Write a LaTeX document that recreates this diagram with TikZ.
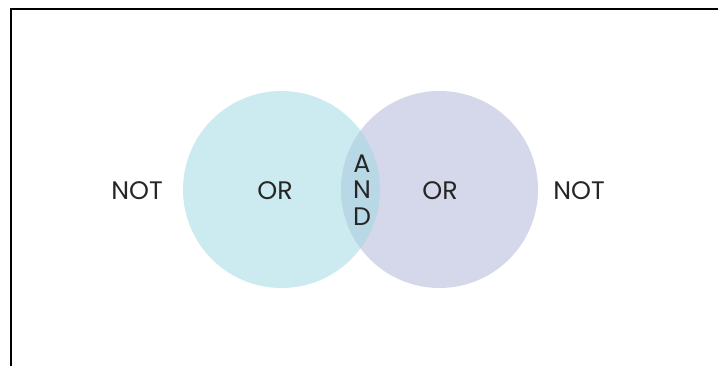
\documentclass[tikz,border=0pt]{standalone}
\usepackage{fontspec}
\setmainfont{Poppins}
\usepackage{tikz}
\usetikzlibrary{positioning}
\definecolor{setleft}{RGB}{204,235,240}
\definecolor{setright}{RGB}{213,215,234}
\definecolor{setboth}{RGB}{184,216,230}

\begin{document}
\begin{tikzpicture}[
  x=0.75pt,y=-0.75pt,
  setcirc/.style={circle,minimum size=147.75pt,inner sep=0pt},
  lbl/.style={font=\fontsize{19}{21}\selectfont,text=black!85,inner sep=0pt},
]
\useasboundingbox (0,0) rectangle (718,366);
\fill[white] (0,0) rectangle (718,366);
% frame
\draw[line width=1.5pt] (11,370) |- (722,9);

\node[setcirc,fill=setleft]  (lcirc) at (281.5,189.5) {};
\node[setcirc,fill=setright] (rcirc) at (439.5,189.5) {};
\begin{scope}
  \clip (lcirc.center) circle (98.5);
  \fill[setboth] (rcirc.center) circle (98.5);
\end{scope}

\node[lbl] (lor)  at (275,191) {OR};
\node[lbl] (ror)  at (440,191) {OR};
\node[lbl] (lnot) at (137,191) {NOT};
\node[lbl] (rnot) at (579,191) {NOT};
\node[lbl,align=center,font=\fontsize{19}{20}\selectfont] (and) at (362,190) {A\\N\\D};
\end{tikzpicture}
\end{document}
